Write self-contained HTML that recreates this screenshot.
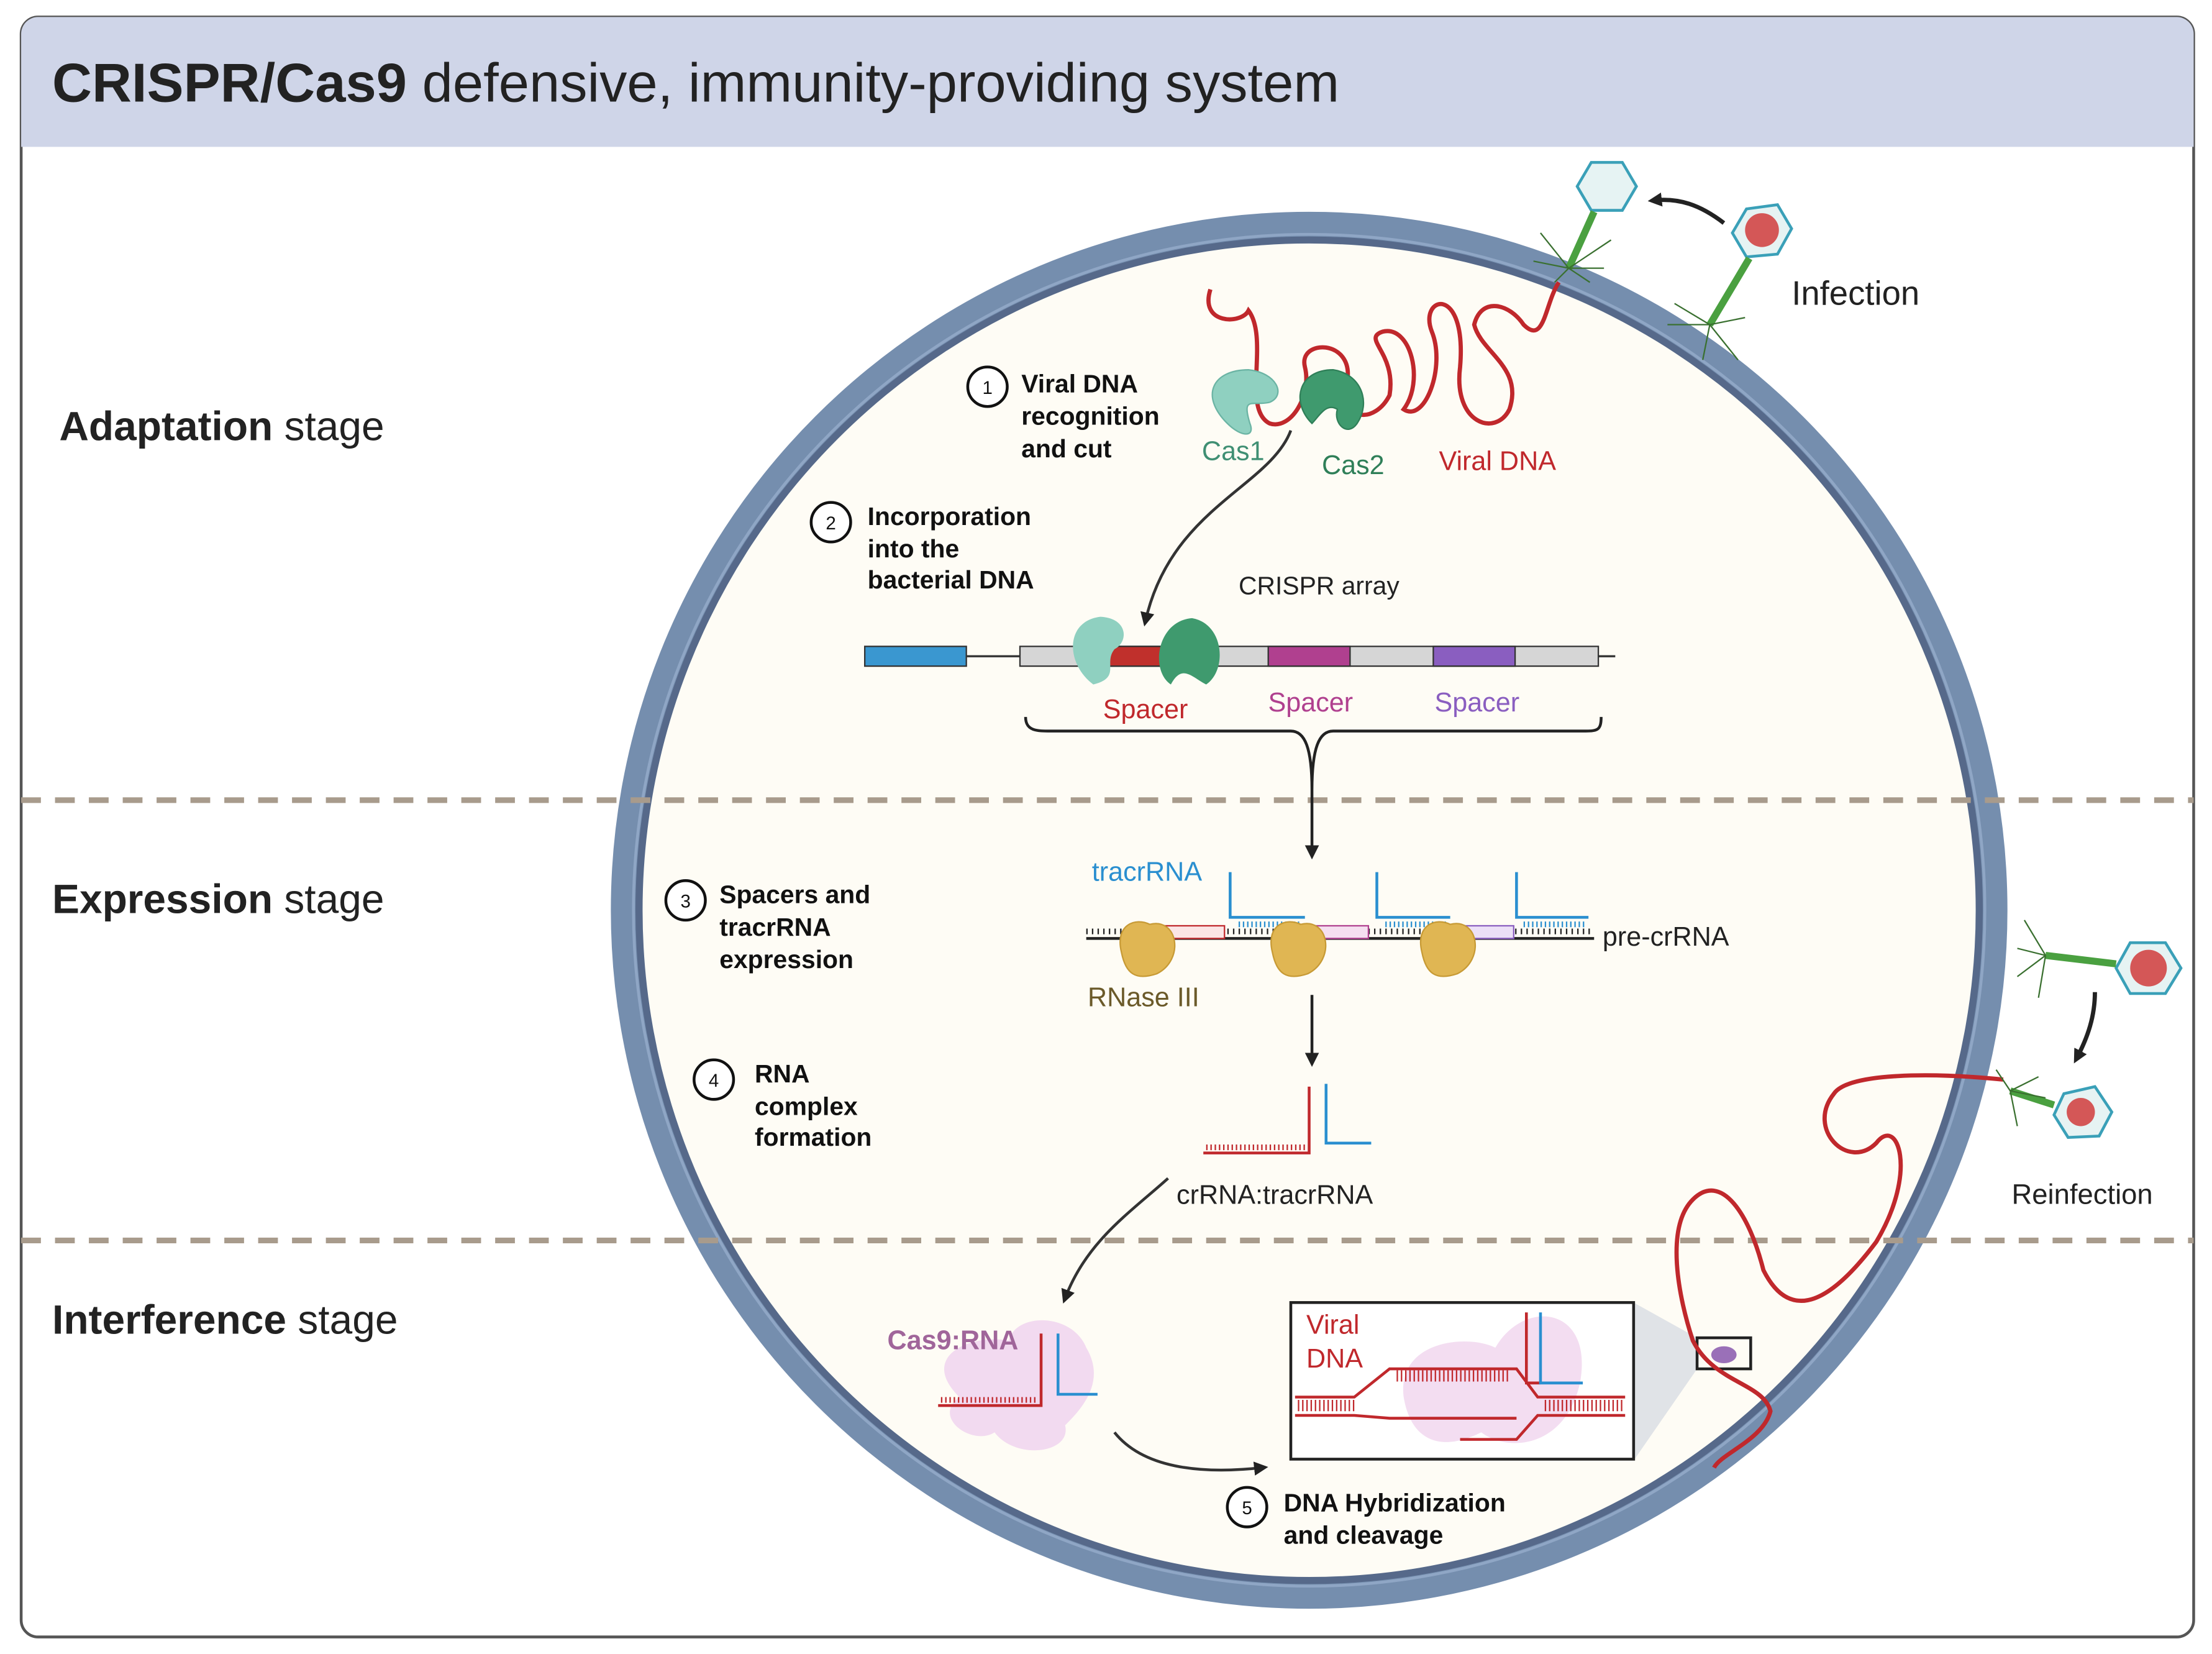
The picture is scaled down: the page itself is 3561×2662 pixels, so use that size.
<!DOCTYPE html>
<html><head><meta charset="utf-8"><style>
html,body{margin:0;padding:0;background:#fff}
svg{display:block}
text{font-family:"Liberation Sans",sans-serif}
</style></head><body>
<svg width="3561" height="2662" viewBox="0 0 1568 1172" xmlns="http://www.w3.org/2000/svg">
<defs>
<marker id="ah" markerWidth="10" markerHeight="10" refX="6" refY="5" orient="auto" markerUnits="userSpaceOnUse"><path d="M0,0 L10,5 L0,10 z" fill="#222"/></marker>
</defs>
<rect x="15" y="12" width="1540" height="1148" rx="12" fill="#fff" stroke="#555" stroke-width="2"/>
<path d="M27,12 H1543 a12,12 0 0 1 12,12 V104 H15 V24 a12,12 0 0 1 12,-12z" fill="#cfd5e8"/>
<text x="37" y="72" font-size="39" fill="#222"><tspan font-weight="bold">CRISPR/Cas9</tspan> defensive, immunity-providing system</text>

<!-- cell -->
<circle cx="928" cy="645" r="484" fill="#fefcf5" stroke="#758eae" stroke-width="22"/>
<circle cx="928" cy="645" r="475" fill="none" stroke="#56698a" stroke-width="5"/>
<circle cx="928" cy="645" r="479" fill="none" stroke="#8fa6c5" stroke-width="2"/>

<!-- dashed lines -->
<line x1="15" y1="567" x2="1555" y2="567" stroke="#a89b8c" stroke-width="4" stroke-dasharray="14,10"/>
<line x1="15" y1="879" x2="1555" y2="879" stroke="#a89b8c" stroke-width="4" stroke-dasharray="14,10"/>

<text x="42" y="312" font-size="29" fill="#222"><tspan font-weight="bold">Adaptation</tspan> stage</text>
<text x="37" y="647" font-size="29" fill="#222"><tspan font-weight="bold">Expression</tspan> stage</text>
<text x="37" y="945" font-size="29" fill="#222"><tspan font-weight="bold">Interference</tspan> stage</text>

<!-- step labels -->
<g font-size="18" font-weight="bold" fill="#111">
<circle cx="700" cy="274" r="14" fill="#fff" stroke="#111" stroke-width="2"/><text x="700" y="279" font-size="13" font-weight="normal" text-anchor="middle">1</text>
<text x="724" y="278">Viral DNA</text><text x="724" y="301">recognition</text><text x="724" y="324">and cut</text>
<circle cx="589" cy="370" r="14" fill="#fff" stroke="#111" stroke-width="2"/><text x="589" y="375" font-size="13" font-weight="normal" text-anchor="middle">2</text>
<text x="615" y="372">Incorporation</text><text x="615" y="395">into the</text><text x="615" y="417">bacterial DNA</text>
<circle cx="486" cy="638" r="14" fill="#fff" stroke="#111" stroke-width="2"/><text x="486" y="643" font-size="13" font-weight="normal" text-anchor="middle">3</text>
<text x="510" y="640">Spacers and</text><text x="510" y="663">tracrRNA</text><text x="510" y="686">expression</text>
<circle cx="506" cy="765" r="14" fill="#fff" stroke="#111" stroke-width="2"/><text x="506" y="770" font-size="13" font-weight="normal" text-anchor="middle">4</text>
<text x="535" y="767">RNA</text><text x="535" y="790">complex</text><text x="535" y="812">formation</text>
<circle cx="884" cy="1068" r="14" fill="#fff" stroke="#111" stroke-width="2"/><text x="884" y="1073" font-size="13" font-weight="normal" text-anchor="middle">5</text>
<text x="910" y="1071">DNA Hybridization</text><text x="910" y="1094">and cleavage</text>
</g>

<!-- viral DNA squiggle -->
<path d="M858,205 C850,230 880,230 885,220 C900,240 880,290 900,300 C915,305 930,280 925,260 C920,240 960,240 955,270 C950,300 975,300 985,280 C990,250 965,240 980,235 C1000,230 1010,270 995,290 C1010,300 1025,260 1015,235 C1005,210 1040,200 1035,260 C1030,300 1060,310 1070,290 C1080,260 1050,250 1045,230 C1050,210 1070,215 1080,230 C1095,245 1095,215 1105,200" fill="none" stroke="#c0282c" stroke-width="3"/>
<!-- Cas1/Cas2 -->
<path d="M870,300 C850,280 860,262 885,262 C905,264 912,280 900,285 C888,288 880,280 886,300 C890,310 880,310 870,300z" fill="#8fd0c0" stroke="#6bb4a4"/>
<path d="M930,300 C915,285 920,262 945,262 C965,265 972,285 962,300 C955,310 945,300 948,290 C940,285 935,295 930,300z" fill="#3f9a6e" stroke="#2f7f58"/>
<text x="852" y="326" font-size="19" fill="#3f8f73">Cas1</text>
<text x="937" y="336" font-size="19" fill="#2f7f58">Cas2</text>
<text x="1020" y="333" font-size="19" fill="#c0282c">Viral DNA</text>
<path d="M915,305 C900,345 830,360 812,440" fill="none" stroke="#333" stroke-width="2" marker-end="url(#ah)"/>

<!-- CRISPR array -->
<text x="878" y="421" font-size="18" fill="#222">CRISPR array</text>
<rect x="613" y="458" width="72" height="14" fill="#3a97d0" stroke="#333" stroke-width="1"/>
<line x1="685" y1="465" x2="723" y2="465" stroke="#333" stroke-width="1.5"/>
<rect x="723" y="458" width="410" height="14" fill="#d6d6d6" stroke="#333" stroke-width="1"/>
<rect x="781" y="458" width="58" height="14" fill="#c0302c" stroke="#333"/>
<rect x="899" y="458" width="58" height="14" fill="#b0408f" stroke="#333"/>
<rect x="1016" y="458" width="58" height="14" fill="#8a5ec0" stroke="#333"/>
<line x1="1133" y1="465" x2="1145" y2="465" stroke="#333" stroke-width="1.5"/>
<path d="M775,485 C755,470 755,440 780,437 C800,438 800,455 790,460 C782,470 795,480 775,485z" fill="#8fd0c0"/>
<path d="M830,485 C815,475 820,440 845,438 C868,442 870,475 855,485 C845,480 838,470 830,485z" fill="#3f9a6e"/>
<text x="812" y="509" font-size="19" fill="#c0282c" text-anchor="middle">Spacer</text>
<text x="929" y="504" font-size="19" fill="#b0408f" text-anchor="middle">Spacer</text>
<text x="1047" y="504" font-size="19" fill="#8a5ec0" text-anchor="middle">Spacer</text>
<path d="M727,508 C727,518 735,518 745,518 L915,518 C925,518 930,530 930,560 C930,530 935,518 945,518 L1122,518 C1132,518 1135,518 1135,508" fill="none" stroke="#222" stroke-width="2"/>
<line x1="930" y1="560" x2="930" y2="605" stroke="#222" stroke-width="2" marker-end="url(#ah)"/>

<!-- pre-crRNA -->
<text x="774" y="624" font-size="19" fill="#2a8fd0">tracrRNA</text>
<line x1="770" y1="665" x2="1130" y2="665" stroke="#222" stroke-width="2"/>
<line x1="770" y1="660" x2="1130" y2="660" stroke="#222" stroke-width="4" stroke-dasharray="1,3"/>
<rect x="813" y="656" width="55" height="9" fill="#fbe5e5" stroke="#c0282c"/>
<rect x="918" y="656" width="52" height="9" fill="#f5dff0" stroke="#b0408f"/>
<rect x="1025" y="656" width="48" height="9" fill="#ece0f7" stroke="#8a5ec0"/>
<g fill="none" stroke="#2a8fd0" stroke-width="2">
<path d="M872,618 V650 H925"/><path d="M976,618 V650 H1028"/><path d="M1075,618 V650 H1126"/>
</g>
<g stroke="#2a8fd0" stroke-width="4" stroke-dasharray="1,2"><line x1="878" y1="655" x2="922" y2="655"/><line x1="982" y1="655" x2="1026" y2="655"/><line x1="1080" y1="655" x2="1124" y2="655"/></g>
<g fill="#e0b653" stroke="#c79a35">
<path d="M795,675 C790,655 805,650 815,655 C835,650 840,680 820,690 C805,695 798,690 795,675z"/>
<path d="M902,675 C897,655 912,650 922,655 C942,650 947,680 927,690 C912,695 905,690 902,675z"/>
<path d="M1008,675 C1003,655 1018,650 1028,655 C1048,650 1053,680 1033,690 C1018,695 1011,690 1008,675z"/>
</g>
<text x="1136" y="670" font-size="19" fill="#222">pre-crRNA</text>
<text x="771" y="713" font-size="19" fill="#6b5a2a">RNase III</text>
<line x1="930" y1="705" x2="930" y2="752" stroke="#222" stroke-width="2" marker-end="url(#ah)"/>

<!-- crRNA:tracrRNA -->
<path d="M853,817 H928 V770" fill="none" stroke="#c0282c" stroke-width="2"/>
<path d="M940,768 V810 H972" fill="none" stroke="#2a8fd0" stroke-width="2"/>
<line x1="855" y1="813" x2="926" y2="813" stroke="#c0282c" stroke-width="4" stroke-dasharray="1,2"/>
<text x="834" y="853" font-size="19" fill="#222">crRNA:tracrRNA</text>
<path d="M828,835 C800,860 770,880 755,920" fill="none" stroke="#333" stroke-width="2" marker-end="url(#ah)"/>

<!-- Cas9:RNA -->
<path d="M680,990 C650,960 690,945 715,950 C720,930 760,930 770,955 C785,980 765,1000 755,1010 C760,1030 720,1035 705,1015 C690,1025 660,1005 680,990z" fill="#f0d4ee" opacity="0.85"/>
<text x="629" y="956" font-size="19" font-weight="bold" fill="#a0659a">Cas9:RNA</text>
<path d="M665,996 H738 V945" fill="none" stroke="#c0282c" stroke-width="2"/>
<path d="M750,945 V988 H778" fill="none" stroke="#2a8fd0" stroke-width="2"/>
<line x1="667" y1="992" x2="735" y2="992" stroke="#c0282c" stroke-width="4" stroke-dasharray="1,2"/>
<path d="M790,1015 C810,1040 850,1045 895,1040" fill="none" stroke="#333" stroke-width="2" marker-end="url(#ah)"/>

<!-- inset -->
<polygon points="1158,923 1203,948 1203,970 1158,1035" fill="#d8dce4" opacity="0.8"/>
<rect x="915" y="923" width="243" height="111" fill="#fff" stroke="#222" stroke-width="2"/>
<path d="M995,990 C990,950 1040,945 1060,955 C1080,920 1130,925 1120,980 C1110,1025 1070,1030 1050,1015 C1020,1030 1000,1020 995,990z" fill="#f0d4ee" opacity="0.8"/>
<text x="926" y="945" font-size="19" fill="#c0282c">Viral</text>
<text x="926" y="969" font-size="19" fill="#c0282c">DNA</text>
<g fill="none" stroke="#c0282c" stroke-width="2">
<path d="M918,990 H960 L985,970 H1075 L1090,990 H1152"/>
<path d="M918,1003 H960 L985,1005 H1075"/>
<path d="M1035,1020 H1075 L1090,1003 H1152"/>
</g>
<g stroke="#c0282c" stroke-width="8" stroke-dasharray="1,2" fill="none"><line x1="920" y1="996" x2="960" y2="996"/><line x1="1095" y1="996" x2="1150" y2="996"/><line x1="990" y1="975" x2="1070" y2="975"/></g>
<path d="M1082,930 V980 H1092" fill="none" stroke="#c0282c" stroke-width="2"/>
<path d="M1092,930 V980 H1122" fill="none" stroke="#2a8fd0" stroke-width="2"/>
<rect x="1203" y="948" width="38" height="22" fill="none" stroke="#222" stroke-width="2"/>
<ellipse cx="1222" cy="960" rx="9" ry="6" fill="#9a70b8"/>

<!-- reinfection DNA -->
<path d="M1420,765 C1370,760 1310,760 1300,775 C1280,800 1310,830 1330,810 C1345,790 1360,830 1330,880 C1300,920 1270,940 1250,900 C1240,860 1220,830 1200,850 C1180,870 1190,920 1200,950 C1215,980 1250,980 1255,1000 C1250,1020 1220,1030 1215,1040" fill="none" stroke="#c0282c" stroke-width="3"/>

<!-- phages -->
<g>
<polygon points="1128,115 1150,115 1160,132 1150,149 1128,149 1118,132" fill="#e6f3f3" stroke="#3aa0b8" stroke-width="2"/>
<line x1="1130" y1="150" x2="1112" y2="190" stroke="#4aa040" stroke-width="5"/>
<g stroke="#3a7030" stroke-width="1"><path d="M1112,190 l-20,-25 M1112,190 l-25,-5 M1112,190 l30,-20 M1112,190 l25,0 M1112,190 l-10,10 M1112,190 l15,10"/></g>
<polygon points="1238,148 1260,145 1270,162 1260,180 1238,182 1228,165" fill="#e6f3f3" stroke="#3aa0b8" stroke-width="2"/>
<circle cx="1249" cy="163" r="12" fill="#d03030" opacity="0.8"/>
<line x1="1240" y1="183" x2="1212" y2="230" stroke="#4aa040" stroke-width="5"/>
<g stroke="#3a7030" stroke-width="1"><path d="M1212,230 l-25,-15 M1212,230 l-30,0 M1212,230 l20,25 M1212,230 l25,-5 M1212,230 l-5,25"/></g>
<path d="M1222,158 C1205,145 1190,140 1172,142" fill="none" stroke="#222" stroke-width="3" marker-end="url(#ah)"/>
<text x="1270" y="216" font-size="24" fill="#222">Infection</text>

<polygon points="1510,668 1535,668 1546,686 1535,704 1510,704 1500,686" fill="#e6f3f3" stroke="#3aa0b8" stroke-width="2"/>
<circle cx="1523" cy="686" r="13" fill="#d03030" opacity="0.8"/>
<line x1="1500" y1="683" x2="1450" y2="677" stroke="#4aa040" stroke-width="5"/>
<g stroke="#3a7030" stroke-width="1"><path d="M1450,677 l-15,-25 M1450,677 l-20,15 M1450,677 l-5,30 M1450,677 l-20,-5"/></g>
<polygon points="1463,775 1485,770 1497,788 1488,805 1466,806 1456,790" fill="#e6f3f3" stroke="#3aa0b8" stroke-width="2"/>
<circle cx="1475" cy="788" r="10" fill="#d03030" opacity="0.8"/>
<line x1="1456" y1="783" x2="1425" y2="773" stroke="#4aa040" stroke-width="5"/>
<g stroke="#3a7030" stroke-width="1"><path d="M1425,773 l-10,-15 M1425,773 l20,-10 M1425,773 l5,25 M1425,773 l25,5"/></g>
<path d="M1485,703 C1485,720 1480,735 1472,750" fill="none" stroke="#222" stroke-width="3" marker-end="url(#ah)"/>
<text x="1426" y="853" font-size="20" fill="#222">Reinfection</text>
</g>
</svg>
</body></html>
